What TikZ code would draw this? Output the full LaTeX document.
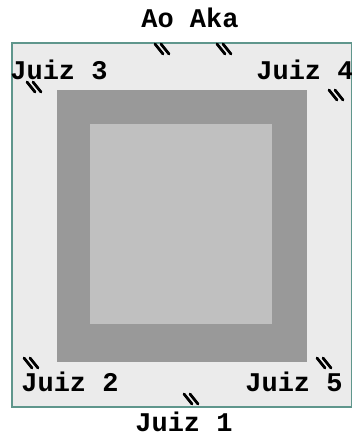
\documentclass[tikz,border=0pt]{standalone}
\usepackage{fontspec}
\setmonofont{Liberation Mono}
\usetikzlibrary{positioning}

\definecolor{fundo}{RGB}{235,235,235}
\definecolor{escuro}{RGB}{153,153,153}
\definecolor{claro}{RGB}{192,192,192}
\definecolor{borda}{RGB}{95,150,140}

\tikzset{
  cadeira/.pic={
    \draw[marca] (-7,-6) -- (1,4);
    \draw[marca] (-1,-6) -- (7,4);
  }
}

\begin{document}
\begin{tikzpicture}[x=1pt, y=-1pt,
    rotulo/.style={font=\ttfamily\bfseries\fontsize{27}{30}\selectfont, inner sep=0pt},
    marca/.style={line width=2.8pt, line cap=round, black},
]
\useasboundingbox (0,0) rectangle (351,439);

% Quadra
\draw[borda, line width=1.2pt, fill=fundo] (12,43) rectangle (352,407);
\fill[escuro] (57,90) rectangle (307,362);
\fill[claro] (90,124) rectangle (272,324);

% Lugares
\pic at (162,50) {cadeira};
\pic at (224,50) {cadeira};
\pic at (34,88) {cadeira};
\pic at (336,96) {cadeira};
\pic at (31,364) {cadeira};
\pic at (324,364) {cadeira};
\pic at (191,400) {cadeira};

% Nomes
\node[rotulo] (aoaka) at (190,18) {Ao Aka};
\node[rotulo] (juiz3) at (59,70) {Juiz 3};
\node[rotulo] (juiz4) at (305,70) {Juiz 4};
\node[rotulo] (juiz2) at (70,382) {Juiz 2};
\node[rotulo] (juiz5) at (294,382) {Juiz 5};
\node[rotulo] (juiz1) at (184,422) {Juiz 1};
\end{tikzpicture}
\end{document}
